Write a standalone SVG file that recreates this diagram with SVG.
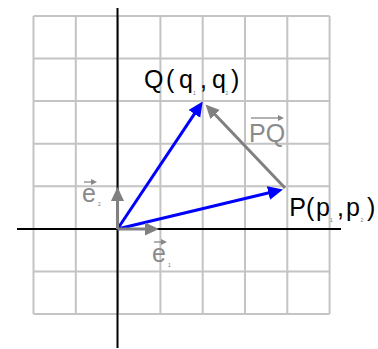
<svg xmlns="http://www.w3.org/2000/svg" width="378" height="349" viewBox="0 0 378 349">
<defs>
<style>
.grid{stroke:#c4c4c4;stroke-width:2;fill:none}
.axis{stroke:#000;stroke-width:2}
.blue{stroke:#0000ff;stroke-width:3;fill:none}
.gray{stroke:#808080;stroke-width:3;fill:none}
.over{stroke:#888;stroke-width:1.3;fill:none}
.lbl{font-family:"Liberation Sans",Arial,sans-serif;font-size:25px;fill:#000}
.glbl{font-family:"Liberation Sans",Arial,sans-serif;font-size:25px;fill:#8a8a8a}
.sub{font-family:"Liberation Sans",Arial,sans-serif;font-size:5px;fill:#777}
</style>
<marker id="hb" markerUnits="userSpaceOnUse" markerWidth="17" markerHeight="15" refX="4" refY="7" orient="auto">
<path d="M0,0 L15,7 L0,14 z" fill="#0000ff"/>
</marker>
<marker id="hg" markerUnits="userSpaceOnUse" markerWidth="16" markerHeight="14" refX="4" refY="6.5" orient="auto">
<path d="M0,0 L14,6.5 L0,13 z" fill="#808080"/>
</marker>
<marker id="hs" markerUnits="userSpaceOnUse" markerWidth="8" markerHeight="8" refX="2" refY="3" orient="auto">
<path d="M0,0 L6,3 L0,6 z" fill="#888"/>
</marker>
</defs>
<g id="grid" class="grid">
<path d="M33.5,16V314M75.8,16V314M118.1,16V314M160.4,16V314M202.7,16V314M245,16V314M287.3,16V314M329.6,16V314"/>
<path d="M33.5,16H329.6M33.5,58.6H329.6M33.5,101.1H329.6M33.5,143.7H329.6M33.5,186.3H329.6M33.5,228.9H329.6M33.5,271.4H329.6M33.5,314H329.6"/>
</g>
<g id="axes">
<line class="axis" x1="117.5" y1="8" x2="117.5" y2="348"/>
<line class="axis" x1="17" y1="229" x2="341" y2="229"/>
</g>
<g id="connectors">
<line id="vOQ" class="blue" x1="117.5" y1="229" x2="196.6" y2="110.6" marker-end="url(#hb)"/>
<line id="vOP" class="blue" x1="117.5" y1="229" x2="272.3" y2="192" marker-end="url(#hb)"/>
<line id="vPQ" class="gray" x1="285" y1="188" x2="212.4" y2="111.7" marker-end="url(#hg)"/>
<line id="ve1" class="gray" x1="117.5" y1="229" x2="149" y2="229" marker-end="url(#hg)"/>
<line id="ve2" class="gray" x1="117.5" y1="229" x2="117.5" y2="197" marker-end="url(#hg)"/>
</g>
<g id="Q">
<text class="lbl" y="88"><tspan x="144">Q</tspan><tspan x="166">(</tspan><tspan x="179">q</tspan><tspan x="200">,</tspan><tspan x="212">q</tspan><tspan x="231">)</tspan></text>
<text class="sub" x="193" y="95">1</text>
<text class="sub" x="225.5" y="95">2</text>
</g>
<g id="P">
<text class="lbl" y="216"><tspan x="289.3">P</tspan><tspan x="306">(</tspan><tspan x="316">p</tspan><tspan x="337">,</tspan><tspan x="346">p</tspan><tspan x="367">)</tspan></text>
<text class="sub" x="330" y="222">1</text>
<text class="sub" x="360.5" y="222">2</text>
</g>
<g id="PQlabel">
<text class="glbl" x="249" y="142">PQ</text>
<line class="over" x1="251" y1="118" x2="280" y2="118" marker-end="url(#hs)"/>
</g>
<g id="e2label">
<text class="glbl" x="82" y="202">e</text>
<line class="over" x1="84" y1="182" x2="93" y2="182" marker-end="url(#hs)"/>
<text class="sub" x="98" y="206">2</text>
</g>
<g id="e1label">
<text class="glbl" x="152" y="262">e</text>
<line class="over" x1="154" y1="242" x2="163" y2="242" marker-end="url(#hs)"/>
<text class="sub" x="168" y="267">1</text>
</g>
</svg>
